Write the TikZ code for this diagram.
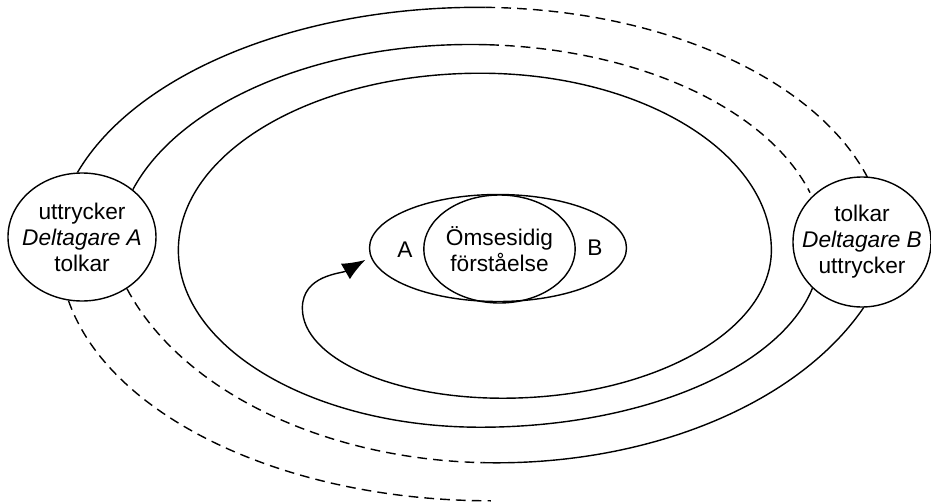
\documentclass[tikz,border=0pt]{standalone}
\usepackage{fontspec}
\setmainfont{Liberation Sans}
\usetikzlibrary{shapes.geometric,arrows.meta}

\newcommand{\diagfont}{\fontsize{12.9}{14.8}\selectfont}

\begin{document}
\begin{tikzpicture}[>={Latex[length=0.46cm,width=0.36cm]},line width=0.8pt,
  party/.style={ellipse,draw,inner sep=0pt},
  words/.style={align=center,font=\diagfont,inner sep=0pt},
  future/.style={dash pattern=on 5.5pt off 3.5pt}]

\useasboundingbox (-9.96,-5.08) rectangle (8.66,4.96);

% ------------------------------------------------------------------
% The two participants
% ------------------------------------------------------------------
\node[party,minimum width=2.96cm,minimum height=2.56cm] (partA) at (-8.32,0.22) {};
\node[words] (partAtext) at (partA) {uttrycker\\\textit{Deltagare A}\\tolkar};

\node[party,minimum width=2.76cm,minimum height=2.6cm] (partB) at (7.28,0.12) {};
\node[words] (partBtext) at (partB) {tolkar\\\textit{Deltagare B}\\uttrycker};

% ------------------------------------------------------------------
% Mutual understanding in the middle
% ------------------------------------------------------------------
\node[party,minimum width=5.14cm,minimum height=2.14cm] (core) at (0,0) {};
\node[party,words,draw,minimum width=2.9cm,minimum height=2.16cm] (mutual) at (0.03,-0.02)
  {Ömsesidig\\förståelse};
\node[words] (sideA) at (-1.86,-0.04) {A};
\node[words] (sideB) at (1.94,0) {B};

% ------------------------------------------------------------------
% Outer loops between the participants (dashed = not yet / no longer)
% ------------------------------------------------------------------
\draw (partA.94) arc[start angle=161.3,end angle=89,x radius=8.46,y radius=4.86]
  coordinate (topOuter);
\draw[future] (topOuter) arc[start angle=89,end angle=17.2,x radius=8.16,y radius=4.86];

\draw (partA.43) arc[start angle=162.6,end angle=87,x radius=7.08,y radius=4.14]
  coordinate (topInner);
\draw[future] (topInner) arc[start angle=87,end angle=16.5,x radius=7.08,y radius=4.14];

\draw[future] (partA.258) arc[start angle=191.5,end angle=270,x radius=8.62,y radius=5.0];

\draw[future] (partA.311) arc[start angle=199.6,end angle=268,x radius=7.84,y radius=5.24]
  coordinate (botInner);
\draw (botInner) arc[start angle=268,end angle=336,x radius=8.04,y radius=5.24];

% ------------------------------------------------------------------
% Spiral from B inwards to the shared understanding
% ------------------------------------------------------------------
\draw[->,shorten >=3.4pt] (partB.223)
  arc[start angle=348,end angle=270,x radius=6.79,y radius=3.51]
  arc[start angle=270,end angle=180,x radius=6.04,y radius=3.54]
  arc[start angle=180,end angle=90,x radius=6.04,y radius=3.54]
  arc[start angle=90,end angle=0,x radius=5.82,y radius=3.54]
  arc[start angle=0,end angle=-90,x radius=5.38,y radius=2.96]
  arc[start angle=270,end angle=180,x radius=4.0,y radius=1.8]
  to[out=90,in=210] (core.184);

\end{tikzpicture}
\end{document}
